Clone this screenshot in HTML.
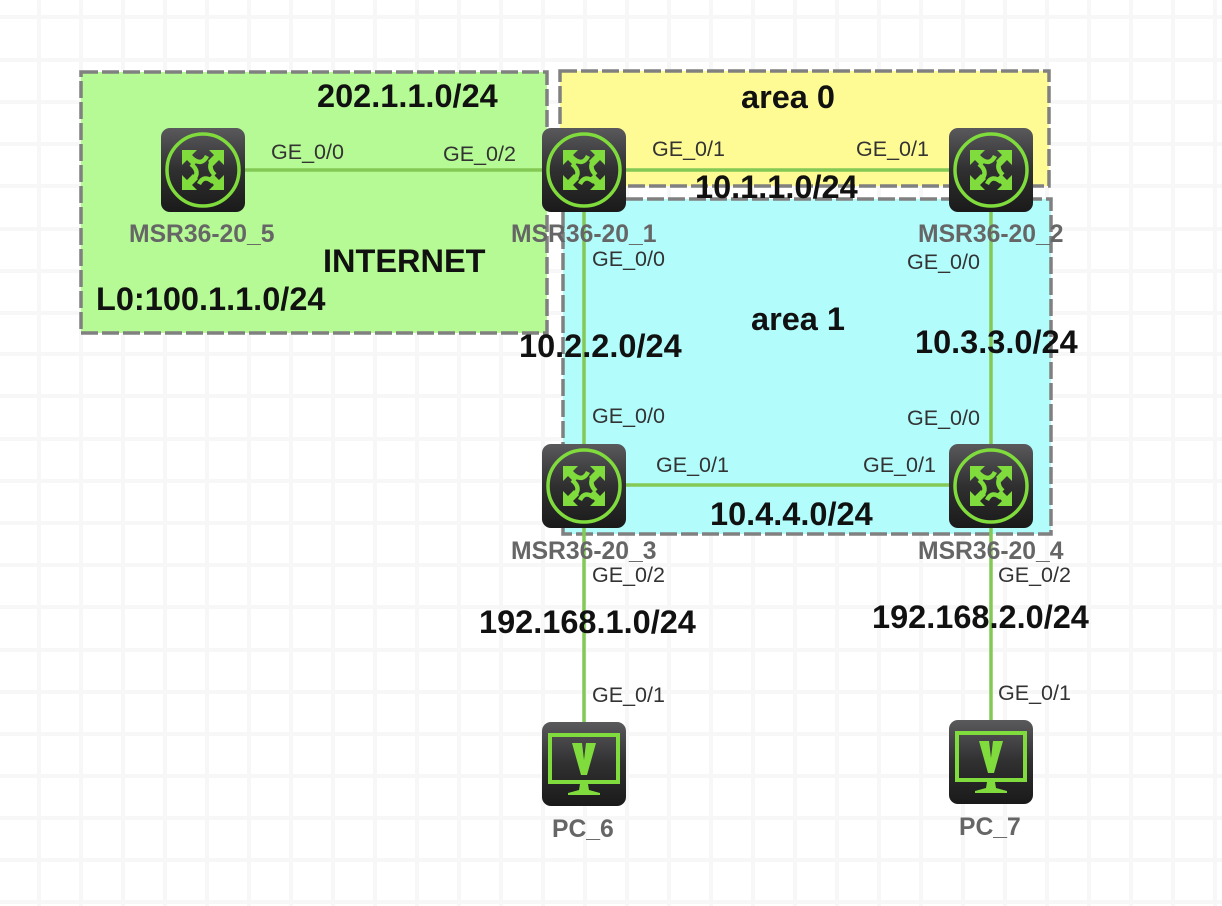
<!DOCTYPE html>
<html><head><meta charset="utf-8"><style>
html,body{margin:0;padding:0;background:#fff}
svg{display:block}
text{font-family:"Liberation Sans",sans-serif}
.b{font-size:32.5px;font-weight:bold;fill:#111}
.p{font-size:21.5px;fill:#333}
.n{font-size:24.7px;font-weight:bold;fill:#666}
</style></head><body>
<svg xmlns="http://www.w3.org/2000/svg" width="1222" height="906" viewBox="0 0 1222 906">
<defs>
<linearGradient id="g" x1="0" y1="0" x2="0" y2="1"><stop offset="0" stop-color="#5a5a5c"/><stop offset=".5" stop-color="#303031"/><stop offset="1" stop-color="#1a1a1a"/></linearGradient>
<g id="r">
<rect x="0" y="0" width="84" height="84" rx="9" fill="url(#g)"/>
<circle cx="42" cy="42" r="36" fill="none" stroke="#7fdc3c" stroke-width="3.5"/>
<g fill="#7fdc3c">
<polygon points="21,22 36,22 31,27 37,33 32,38 26,32 21,37"/>
<polygon points="63,22 48,22 53,27 47,33 52,38 58,32 63,37"/>
<polygon points="21,62 36,62 31,57 37,51 32,46 26,52 21,47"/>
<polygon points="63,62 48,62 53,57 47,51 52,46 58,52 63,47"/>
</g>
<g fill="none" stroke="#7fdc3c" stroke-width="4.5">
<path d="M32,31Q41,38 46,28"/><path d="M52,31Q46,40 54,47"/><path d="M52,54Q43,46 38,56"/><path d="M32,52Q40,44 30,36"/>
</g>
</g>
<g id="pc">
<rect x="0" y="0" width="84" height="84" rx="9" fill="url(#g)"/>
<rect x="8" y="13" width="68" height="47" fill="none" stroke="#7fdc3c" stroke-width="4"/>
<polygon points="30,21 40,21 42,38 44,21 54,21 45,53 39,53" fill="#7fdc3c"/>
<polygon points="38,62 46,62 47,68 58,71 58,73 26,73 26,71 37,68" fill="#7fdc3c"/>
</g>
</defs>
<rect width="1222" height="906" fill="#fff"/>
<g stroke="#f7f7f8" stroke-width="4" id="grid">
<path d="M39,0V906M81,0V906M123,0V906M165,0V906M207,0V906M249,0V906M291,0V906M333,0V906M375,0V906M417,0V906M459,0V906M501,0V906M543,0V906M585,0V906M627,0V906M669,0V906M711,0V906M753,0V906M795,0V906M837,0V906M879,0V906M921,0V906M963,0V906M1005,0V906M1047,0V906M1089,0V906M1131,0V906M1173,0V906M1215,0V906"/>
<path d="M0,17H1222M0,60H1222M0,102H1222M0,144H1222M0,186H1222M0,229H1222M0,271H1222M0,313H1222M0,354H1222M0,396H1222M0,439H1222M0,481H1222M0,523H1222M0,565H1222M0,607H1222M0,650H1222M0,692H1222M0,734H1222M0,776H1222M0,818H1222M0,860H1222M0,902H1222"/>
</g>
<g stroke="#808080" stroke-width="3.5" stroke-dasharray="17 4">
<rect x="81" y="72" width="466" height="261" fill="#b5fa94"/>
<rect x="560" y="71" width="489" height="115" fill="#fffb94"/>
<rect x="563" y="199" width="488" height="335" fill="#b2fcfc"/>
</g>
<g stroke="#84c955" stroke-width="3.5" fill="none">
<path d="M245,170H545"/>
<path d="M625,170H950"/>
<path d="M584,210V445"/>
<path d="M991,210V445"/>
<path d="M625,485H950"/>
<path d="M584,527V724"/>
<path d="M991,527V722"/>
</g>
<use href="#r" x="161" y="128"/>
<use href="#r" x="542" y="128"/>
<use href="#r" x="949" y="128"/>
<use href="#r" x="542" y="444"/>
<use href="#r" x="949" y="444"/>
<use href="#pc" x="542" y="722"/>
<use href="#pc" x="949" y="720"/>
<text class="n" x="129" y="242">MSR36-20_5</text>
<text class="n" x="511" y="242">MSR36-20_1</text>
<text class="n" x="918" y="242">MSR36-20_2</text>
<text class="n" x="511" y="559">MSR36-20_3</text>
<text class="n" x="918" y="559">MSR36-20_4</text>
<text class="n" x="552" y="837">PC_6</text>
<text class="n" x="959" y="835">PC_7</text>
<text class="p" x="271" y="159">GE_0/0</text>
<text class="p" x="443" y="161">GE_0/2</text>
<text class="p" x="652" y="156">GE_0/1</text>
<text class="p" x="856" y="156">GE_0/1</text>
<text class="p" x="592" y="266">GE_0/0</text>
<text class="p" x="907" y="269">GE_0/0</text>
<text class="p" x="592" y="423">GE_0/0</text>
<text class="p" x="907" y="425">GE_0/0</text>
<text class="p" x="656" y="472">GE_0/1</text>
<text class="p" x="863" y="472">GE_0/1</text>
<text class="p" x="592" y="582">GE_0/2</text>
<text class="p" x="998" y="582">GE_0/2</text>
<text class="p" x="592" y="702">GE_0/1</text>
<text class="p" x="998" y="700">GE_0/1</text>
<text class="b" x="317" y="107">202.1.1.0/24</text>
<text class="b" x="741" y="108">area 0</text>
<text class="b" x="695" y="198">10.1.1.0/24</text>
<text class="b" x="323" y="272">INTERNET</text>
<text class="b" x="96" y="310">L0:100.1.1.0/24</text>
<text class="b" x="751" y="330">area 1</text>
<text class="b" x="519" y="357">10.2.2.0/24</text>
<text class="b" x="915" y="353">10.3.3.0/24</text>
<text class="b" x="710" y="525">10.4.4.0/24</text>
<text class="b" x="479" y="633">192.168.1.0/24</text>
<text class="b" x="872" y="628">192.168.2.0/24</text>
</svg>
</body></html>
